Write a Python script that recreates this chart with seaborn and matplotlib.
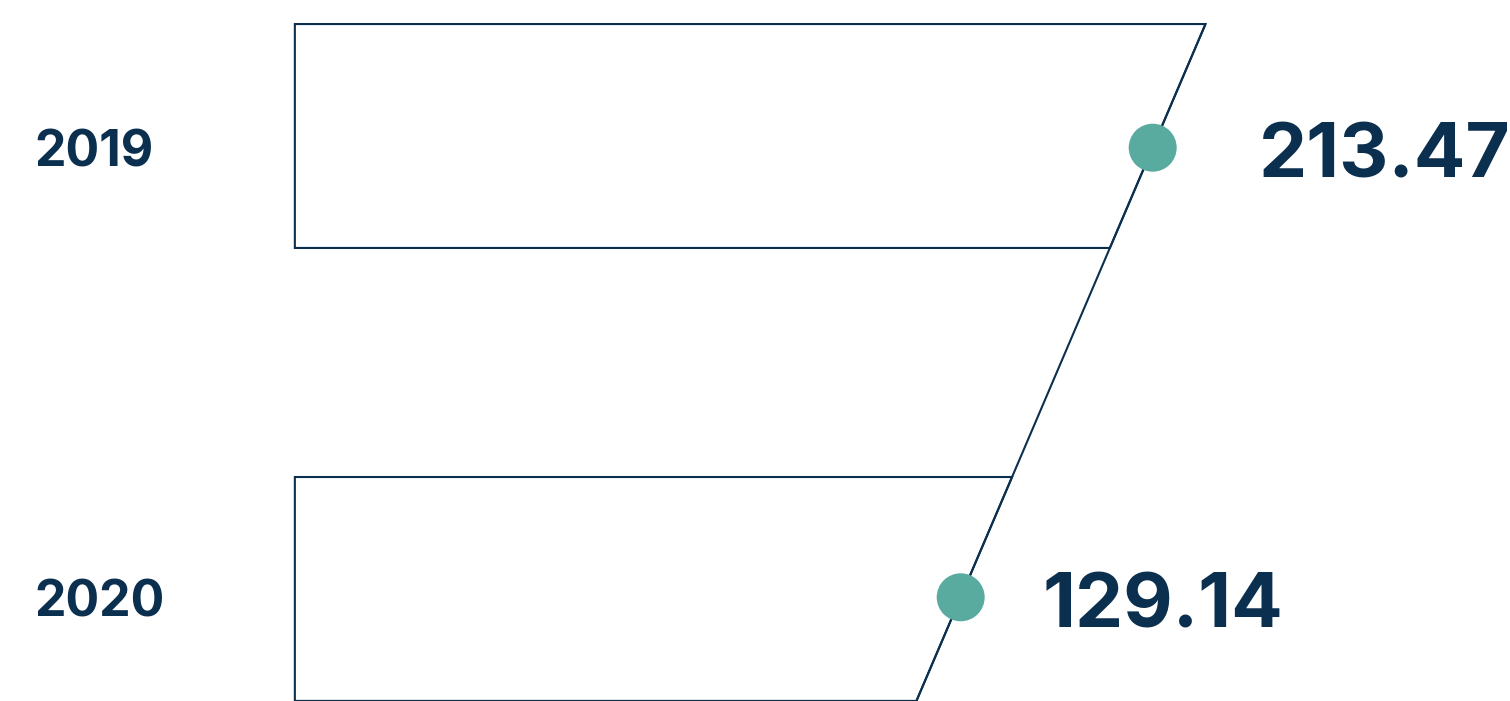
import numpy as np
import pandas as pd
import matplotlib
matplotlib.use("Agg")
import matplotlib.pyplot as plt
from matplotlib.patches import Polygon
import seaborn as sns

# ---- data ----
years = ["2019", "2020"]
values = [213.47, 129.14]
value_labels = ["213.47", "129.14"]

# ---- style ----
NAVY = "#0b2f4e"
TEAL = "#5aab9f"
W, H, DPI = 1510, 701, 100

sns.set_theme(style="white")
plt.rcParams["font.family"] = ["Inter", "DejaVu Sans"]

df = pd.DataFrame({"year": years, "value": values, "idx": np.arange(len(years))})

fig = plt.figure(figsize=(W / DPI, H / DPI), dpi=DPI)
ax = fig.add_axes([0, 0, 1, 1])

XLIM = (-292.8, 370.4)
YLIM = (1.2307, -0.3285)

# trend line through the two points, extended
x0, x1 = df["value"].iloc[0], df["value"].iloc[1]
y0, y1 = df["idx"].iloc[0], df["idx"].iloc[1]
slope = (x1 - x0) / (y1 - y0)  # dx per dy


def line_x(y):
    return x0 + slope * (y - y0)


BAR_LEFT = -163.3
BAR_HALF = 0.249
BAR_SHIFT = [-0.026, -0.0185]

for k, i in enumerate(df["idx"]):
    yt = i + BAR_SHIFT[k] - BAR_HALF
    yb = i + BAR_SHIFT[k] + BAR_HALF
    poly = Polygon(
        [(BAR_LEFT, yt), (line_x(yt), yt), (line_x(yb), yb), (BAR_LEFT, yb)],
        closed=True, facecolor="white", edgecolor=NAVY, linewidth=1.5, zorder=1,
    )
    ax.add_patch(poly)

ytop = 0 + BAR_SHIFT[0] - BAR_HALF
ybot = YLIM[0]
ax.plot([line_x(ytop), line_x(ybot)], [ytop, ybot], color=NAVY, lw=1.5, zorder=2,
        solid_capstyle="butt")

sns.scatterplot(data=df, x="value", y="idx", ax=ax, s=48 ** 2 * 0.5184, color=TEAL,
                edgecolor="none", zorder=3, legend=False)
ax.set_xlim(*XLIM)
ax.set_ylim(*YLIM)
ax.set_axis_off()

# labels
year_tr = ax.get_yaxis_transform()
for i, yr in enumerate(years):
    ax.annotate(yr, xy=(34 / W, i), xycoords=year_tr, xytext=(0, -19),
                textcoords="offset pixels", ha="left", va="baseline",
                fontsize=36, fontweight="bold", color=NAVY)
value_dx = [106, 82]
for i, (v, lab) in enumerate(zip(values, value_labels)):
    ax.annotate(lab, xy=(v, i), xycoords="data", xytext=(value_dx[i], -30),
                textcoords="offset pixels", ha="left", va="baseline",
                fontsize=55, fontweight="bold", color=NAVY)

fig.savefig("out.png", dpi=DPI, facecolor="white")
